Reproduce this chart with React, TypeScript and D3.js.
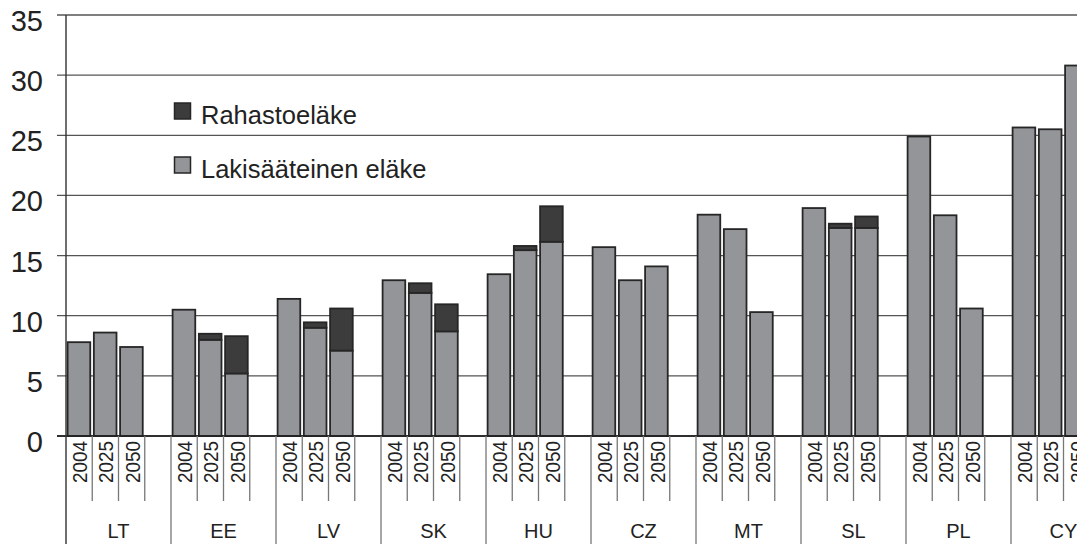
import React from "react";
import * as d3 from "d3";

// Pension expenditure by country and projection year
const categories = ["LT", "EE", "LV", "SK", "HU", "CZ", "MT", "SL", "PL", "CY"];
const years = ["2004", "2025", "2050"];
// Statutory pension (Lakisääteinen eläke), per country: 2004, 2025, 2050
const statutory = [
  [7.8, 8.6, 7.4],
  [10.5, 8.0, 5.2],
  [11.4, 9.0, 7.1],
  [12.95, 11.9, 8.7],
  [13.45, 15.45, 16.15],
  [15.7, 12.95, 14.1],
  [18.4, 17.2, 10.3],
  [18.95, 17.3, 17.3],
  [24.9, 18.35, 10.6],
  [25.65, 25.5, 30.8],
];
// Funded pension (Rahastoeläke), stacked on top
const funded = [
  [0, 0, 0],
  [0, 0.5, 3.1],
  [0, 0.45, 3.5],
  [0, 0.8, 2.25],
  [0, 0.35, 2.95],
  [0, 0, 0],
  [0, 0, 0],
  [0, 0.35, 0.95],
  [0, 0, 0],
  [0, 0, 0],
];
const yTicks = [0, 5, 10, 15, 20, 25, 30, 35];
const legendLabels = ["Rahastoeläke", "Lakisääteinen eläke"];

const W = 1077;
const H = 544;
const FONT = "'Liberation Sans', Arial, sans-serif";
const GRAY = "#939598";
const DARK = "#3c3c3c";
const STROKE = "#262626";

export default function App() {
  const left = 66;
  const band = 105;
  const x = d3
    .scaleBand<string>()
    .domain(categories)
    .range([left, left + band * categories.length])
    .paddingInner(0)
    .paddingOuter(0);
  // four slots per country: three years and an empty gap
  const slot = d3
    .scaleBand<string>()
    .domain([...years, "gap"])
    .range([0, x.bandwidth()]);
  const y = d3.scaleLinear().domain([0, 35]).range([436, 15]);
  const y0 = y(0);
  const sw = slot.bandwidth();

  return (
    <svg
      width={W}
      height={H}
      style={{ position: "absolute", left: 0, top: 0, background: "#fff" }}
      fontFamily={FONT}
    >
      {/* grid lines */}
      {yTicks.map((t) => (
        <line
          key={"g" + t}
          x1={57}
          x2={W}
          y1={y(t)}
          y2={y(t)}
          stroke={t === 0 ? "#222" : "#555"}
          strokeWidth={t === 0 ? 1.6 : 1.3}
        />
      ))}
      {/* y tick labels */}
      {yTicks.map((t) => (
        <text
          key={"t" + t}
          x={43}
          y={y(t) + 16}
          textAnchor="end"
          fontSize={29}
          fill="#222"
        >
          {t}
        </text>
      ))}
      {/* bars */}
      {categories.map((c, i) =>
        years.map((yr, j) => {
          const bx = (x(c) as number) + (slot(yr) as number) + 1.6;
          const bw = sw - 3.6;
          const s = statutory[i][j];
          const f = funded[i][j];
          return (
            <g key={c + yr}>
              <rect
                x={bx}
                y={y(s)}
                width={bw}
                height={y0 - y(s)}
                fill={GRAY}
                stroke={STROKE}
                strokeWidth={1.8}
              />
              {f > 0 && (
                <rect
                  x={bx}
                  y={y(s + f)}
                  width={bw}
                  height={y(s) - y(s + f)}
                  fill={DARK}
                  stroke={STROKE}
                  strokeWidth={1.8}
                />
              )}
            </g>
          );
        })
      )}
      {/* zero line on top of bars */}
      <line x1={57} x2={W} y1={y0} y2={y0} stroke="#222" strokeWidth={1.6} />
      {/* y axis */}
      <line x1={left} x2={left} y1={y(35)} y2={H} stroke="#333" strokeWidth={1.4} />
      {/* category axis: year slots and country groups */}
      {categories.map((c, i) => {
        const gx = x(c) as number;
        return (
          <g key={"ax" + c}>
            {i > 0 && (
              <line x1={gx} x2={gx} y1={y0} y2={H} stroke="#777" strokeWidth={1.3} />
            )}
            {years.map((yr) => {
              const sx = gx + (slot(yr) as number);
              return (
                <g key={"yl" + c + yr}>
                  <line
                    x1={sx + sw}
                    x2={sx + sw}
                    y1={y0}
                    y2={501}
                    stroke="#777"
                    strokeWidth={1.3}
                  />
                  <text
                    transform={`translate(${sx + sw / 2 + 8},${441}) rotate(-90)`}
                    textAnchor="end"
                    fontSize={20}
                    textLength={42}
                    lengthAdjust="spacingAndGlyphs"
                    fill="#222"
                  >
                    {yr}
                  </text>
                </g>
              );
            })}
            <text
              x={gx + x.bandwidth() / 2}
              y={538}
              textAnchor="middle"
              fontSize={20}
              fill="#222"
            >
              {c}
            </text>
          </g>
        );
      })}
      {/* legend */}
      {legendLabels.map((l, k) => (
        <g key={l} transform={`translate(174.5,${103 + k * 54})`}>
          <rect
            width={16}
            height={16}
            fill={k === 0 ? DARK : GRAY}
            stroke={STROKE}
            strokeWidth={1.5}
          />
          <text x={26.5} y={20.5} fontSize={25.5} fill="#222">
            {l}
          </text>
        </g>
      ))}
    </svg>
  );
}
